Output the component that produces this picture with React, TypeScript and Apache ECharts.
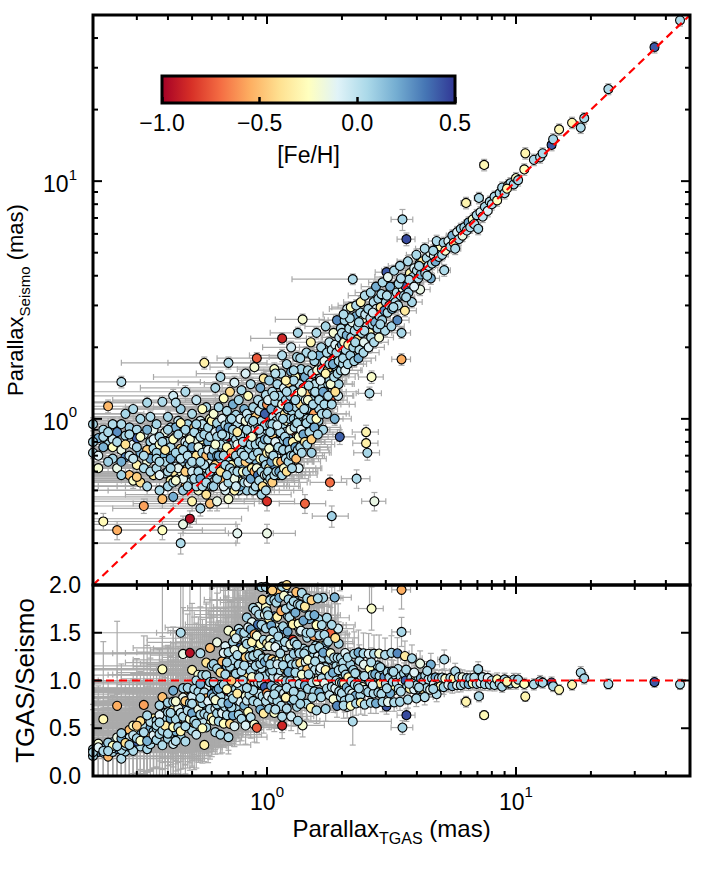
import React, { useEffect, useRef } from "react";
import * as echarts from "echarts";

// ---------- axis ranges, ticks ----------
const X_RANGE = [0.2, 50];
const Y_RANGE = [0.2, 50];
const RATIO_RANGE = [0, 2];
const FEH_RANGE = [-1, 0.5];
const LOG_MAJOR = [1, 10];
const LOG_MINOR = [0.3, 0.4, 0.5, 0.6, 0.7, 0.8, 0.9, 2, 3, 4, 5, 6, 7, 8, 9, 20, 30, 40];
const RATIO_TICKS = [0.5, 1.0, 1.5];
const RATIO_INTERVAL = 0.5;
const FEH_INTERVAL = 0.5;
const UNITY = 1;

const RDYLBU = ["#a50026", "#d73027", "#f46d43", "#fdae61", "#fee090", "#ffffbf", "#e0f3f8", "#abd9e9", "#74add1", "#4575b4", "#313695"];

// ---------- stars: [parallax TGAS, parallax seismo, [Fe/H], err TGAS, err seismo] ----------
const STARS_A = [
  [0.21, 0.83, 0.2, 0.28, 0.05], [0.2, 0.72, 0.04, 0.3, 0.04], [0.22, 0.9, 0.04, 0.27, 0.06], [0.23, 1.13, -0.52, 0.31, 0.07],
  [0.21, 0.62, -0.2, 0.29, 0.04], [0.22, 0.37, -0.28, 0.3, 0.03], [0.24, 0.95, 0.04, 0.26, 0.06], [0.25, 0.34, -0.55, 0.3, 0.03],
  [0.23, 0.78, 0.05, 0.32, 0.05], [0.26, 1.43, 0.02, 0.28, 0.08], [0.24, 0.68, 0.06, 0.29, 0.04], [0.25, 0.88, 0.28, 0.27, 0.05],
  [0.26, 0.74, -0.15, 0.3, 0.05], [0.27, 0.69, 0.3, 0.28, 0.04], [0.27, 1.05, 0.06, 0.31, 0.06], [0.28, 0.92, 0.08, 0.29, 0.06],
  [0.28, 0.58, -0.5, 0.3, 0.04], [0.29, 0.78, -0.1, 0.27, 0.05], [0.3, 0.9, 0.04, 0.3, 0.05], [0.3, 0.64, -0.3, 0.28, 0.04],
  [0.31, 1.0, 0.04, 0.29, 0.06], [0.31, 0.72, 0.18, 0.26, 0.05], [0.32, 0.86, -0.08, 0.3, 0.05], [0.32, 0.43, -0.58, 0.31, 0.03],
  [0.33, 1.17, 0.05, 0.28, 0.07], [0.33, 0.66, -0.18, 0.29, 0.04], [0.34, 0.8, 0.06, 0.3, 0.05], [0.34, 1.02, 0.03, 0.27, 0.06],
  [0.35, 0.58, -0.35, 0.3, 0.04], [0.35, 0.9, -0.12, 0.28, 0.05], [0.26, 0.95, 0.04, 0.3, 0.06], [0.29, 1.1, 0.04, 0.29, 0.07],
  [0.3, 0.83, 0.4, 0.3, 0.05], [0.24, 0.82, -0.05, 0.31, 0.05], [0.27, 0.85, 0.05, 0.28, 0.05], [0.28, 0.7, -0.02, 0.3, 0.04],
  [0.32, 0.62, 0.04, 0.29, 0.04], [0.33, 0.74, -0.45, 0.3, 0.05], [0.22, 0.76, 0.18, 0.3, 0.05], [0.2, 0.95, 0.05, 0.31, 0.06],
  [0.25, 0.62, -0.15, 0.28, 0.04], [0.29, 0.55, -0.22, 0.3, 0.04], [0.31, 0.54, -0.4, 0.28, 0.04], [0.34, 0.68, 0.2, 0.3, 0.04],
  [0.35, 0.75, 0.04, 0.29, 0.05],
];

const STARS_A2 = [
  [0.2, 0.8, 0.05, 0.4, 0.05], [0.21, 0.7, -0.1, 0.45, 0.05], [0.22, 0.84, 0.04, 0.38, 0.05], [0.23, 0.66, 0.08, 0.42, 0.04],
  [0.24, 0.76, -0.25, 0.4, 0.05], [0.25, 0.8, 0.04, 0.44, 0.05], [0.26, 0.66, 0.2, 0.4, 0.04], [0.27, 0.78, -0.4, 0.38, 0.05],
  [0.28, 0.86, 0.05, 0.42, 0.05], [0.29, 0.68, 0.0, 0.4, 0.04], [0.3, 0.76, 0.06, 0.45, 0.05], [0.31, 0.84, -0.22, 0.4, 0.05],
  [0.32, 0.7, 0.04, 0.38, 0.05], [0.33, 0.9, 0.18, 0.42, 0.06], [0.34, 0.6, 0.02, 0.4, 0.04], [0.35, 0.82, -0.1, 0.44, 0.05],
  [0.23, 0.88, 0.05, 0.4, 0.06], [0.26, 0.58, 0.07, 0.42, 0.04], [0.3, 0.57, -0.45, 0.4, 0.04], [0.33, 0.52, 0.04, 0.38, 0.04],
];

const STARS_B = [
  [0.36, 0.62, 0.04, 0.3, 0.04], [0.36, 0.95, 0.06, 0.28, 0.06], [0.37, 0.78, -0.22, 0.31, 0.05], [0.37, 0.5, 0.05, 0.29, 0.04],
  [0.38, 0.34, -0.25, 0.3, 0.03], [0.38, 1.18, 0.04, 0.3, 0.07], [0.38, 0.7, 0.18, 0.28, 0.05], [0.39, 0.88, -0.15, 0.32, 0.05],
  [0.39, 0.59, 0.02, 0.3, 0.04], [0.4, 1.02, 0.06, 0.29, 0.06], [0.4, 0.66, -0.48, 0.3, 0.05], [0.4, 0.8, 0.02, 0.31, 0.05],
  [0.41, 0.55, -0.3, 0.28, 0.04], [0.41, 0.92, 0.03, 0.3, 0.06], [0.42, 0.72, 0.03, 0.29, 0.05], [0.42, 1.25, -0.05, 0.3, 0.08],
  [0.42, 0.47, 0.2, 0.31, 0.04], [0.43, 0.84, -0.2, 0.3, 0.05], [0.43, 0.63, -0.05, 0.28, 0.04], [0.44, 0.98, -0.02, 0.3, 0.06],
  [0.44, 0.57, -0.15, 0.29, 0.04], [0.45, 0.3, 0.04, 0.3, 0.03], [0.45, 0.75, -0.42, 0.31, 0.05], [0.45, 1.1, 0.08, 0.28, 0.07],
  [0.46, 0.66, 0.04, 0.3, 0.05], [0.46, 0.36, -0.15, 0.29, 0.03], [0.46, 0.88, -0.12, 0.3, 0.05], [0.47, 0.52, -0.55, 0.3, 0.04],
  [0.47, 0.8, -0.08, 0.28, 0.05], [0.47, 1.3, 0.04, 0.31, 0.08], [0.48, 0.62, -0.25, 0.29, 0.05], [0.48, 0.95, 0.06, 0.3, 0.06],
  [0.49, 0.38, -0.95, 0.3, 0.03], [0.49, 0.72, 0.05, 0.28, 0.05], [0.5, 0.56, 0.0, 0.3, 0.04], [0.5, 0.85, -0.1, 0.29, 0.05],
  [0.5, 1.05, 0.04, 0.3, 0.07], [0.5, 0.45, -0.3, 0.31, 0.04], [0.51, 0.68, 0.02, 0.28, 0.05], [0.51, 0.92, -0.45, 0.3, 0.06],
  [0.52, 0.6, 0.04, 0.29, 0.04], [0.52, 0.78, 0.28, 0.3, 0.05], [0.52, 1.2, -0.02, 0.28, 0.07], [0.53, 0.5, -0.2, 0.3, 0.04],
  [0.53, 0.86, 0.05, 0.29, 0.05], [0.54, 0.7, -0.6, 0.3, 0.05], [0.54, 0.98, -0.08, 0.31, 0.06], [0.54, 0.42, 0.03, 0.3, 0.03],
  [0.55, 0.64, 0.2, 0.28, 0.04], [0.55, 0.82, -0.28, 0.3, 0.05], [0.56, 1.72, -0.32, 0.3, 0.1], [0.56, 0.74, 0.06, 0.29, 0.05],
  [0.56, 0.55, -0.15, 0.3, 0.04], [0.57, 0.9, -0.05, 0.28, 0.06], [0.57, 0.48, -0.38, 0.3, 0.04], [0.57, 1.12, 0.05, 0.3, 0.07],
  [0.58, 0.66, -0.12, 0.29, 0.05], [0.58, 0.8, 0.18, 0.31, 0.05], [0.58, 0.58, 0.04, 0.28, 0.04], [0.59, 1.0, -0.22, 0.3, 0.06],
  [0.59, 0.72, 0.02, 0.29, 0.05], [0.59, 0.44, -0.5, 0.3, 0.03], [0.6, 0.86, 0.03, 0.28, 0.05], [0.6, 0.62, 0.04, 0.3, 0.04],
  [0.36, 0.72, 0.08, 0.3, 0.05], [0.39, 0.66, 0.03, 0.29, 0.05], [0.41, 0.76, 0.04, 0.3, 0.05], [0.43, 0.92, 0.18, 0.28, 0.06],
  [0.45, 0.6, -0.18, 0.3, 0.04], [0.48, 0.78, 0.06, 0.29, 0.05], [0.49, 0.54, 0.06, 0.3, 0.04], [0.51, 0.8, -0.15, 0.28, 0.05],
  [0.53, 0.66, 0.05, 0.3, 0.05], [0.55, 0.95, 0.0, 0.29, 0.06], [0.57, 0.62, -0.08, 0.3, 0.04], [0.47, 0.68, 0.3, 0.3, 0.05],
  [0.44, 0.7, 0.04, 0.29, 0.05], [0.42, 0.6, -0.35, 0.3, 0.04], [0.52, 0.52, 0.03, 0.31, 0.04], [0.5, 0.7, 0.04, 0.28, 0.05],
  [0.46, 0.56, -0.12, 0.3, 0.04], [0.37, 0.84, 0.06, 0.3, 0.05], [0.38, 0.46, -0.5, 0.29, 0.04], [0.4, 0.52, 0.06, 0.3, 0.04],
  [0.43, 1.17, 0.02, 0.28, 0.07], [0.55, 0.52, 0.04, 0.3, 0.04],
];

const STARS_B2 = [
  [0.36, 0.68, 0.04, 0.42, 0.05], [0.37, 0.58, -0.1, 0.4, 0.04], [0.38, 0.8, 0.05, 0.45, 0.05], [0.39, 0.74, -0.35, 0.4, 0.05],
  [0.4, 0.6, 0.03, 0.42, 0.04], [0.4, 0.9, 0.05, 0.4, 0.06], [0.41, 0.68, 0.2, 0.44, 0.05], [0.42, 0.82, -0.25, 0.4, 0.05],
  [0.42, 0.54, 0.04, 0.42, 0.04], [0.43, 0.72, 0.06, 0.45, 0.05], [0.44, 0.62, -0.12, 0.4, 0.04], [0.44, 0.86, 0.05, 0.42, 0.05],
  [0.45, 0.68, 0.0, 0.4, 0.05], [0.45, 0.96, -0.3, 0.44, 0.06], [0.46, 0.74, 0.04, 0.4, 0.05], [0.46, 0.5, 0.08, 0.42, 0.04],
  [0.47, 0.6, -0.45, 0.4, 0.04], [0.47, 0.9, 0.05, 0.45, 0.06], [0.48, 0.7, 0.02, 0.42, 0.05], [0.48, 0.52, 0.06, 0.4, 0.04],
  [0.49, 0.82, -0.2, 0.44, 0.05], [0.49, 0.64, 0.05, 0.4, 0.05], [0.5, 0.76, 0.22, 0.42, 0.05], [0.5, 0.6, -0.05, 0.4, 0.04],
  [0.51, 0.88, 0.04, 0.45, 0.06], [0.51, 0.56, 0.03, 0.42, 0.04], [0.52, 0.7, -0.38, 0.4, 0.05], [0.52, 0.95, 0.06, 0.44, 0.06],
  [0.53, 0.6, 0.05, 0.4, 0.04], [0.53, 0.76, -0.15, 0.42, 0.05], [0.54, 0.84, 0.04, 0.4, 0.05], [0.54, 0.56, 0.2, 0.45, 0.04],
  [0.55, 0.72, 0.05, 0.42, 0.05], [0.55, 1.1, -0.25, 0.4, 0.07], [0.56, 0.64, 0.02, 0.44, 0.05], [0.56, 0.86, 0.06, 0.4, 0.05],
  [0.57, 0.7, -0.5, 0.42, 0.05], [0.57, 0.54, 0.04, 0.4, 0.04], [0.58, 0.92, 0.05, 0.45, 0.06], [0.58, 0.74, -0.1, 0.42, 0.05],
  [0.59, 0.6, 0.06, 0.4, 0.04], [0.59, 0.84, 0.03, 0.44, 0.05], [0.6, 0.7, 0.22, 0.42, 0.05], [0.6, 0.98, -0.3, 0.4, 0.06],
  [0.6, 0.52, 0.05, 0.42, 0.04], [0.37, 0.66, 0.05, 0.4, 0.05], [0.41, 0.62, 0.06, 0.42, 0.04], [0.43, 0.55, -0.2, 0.4, 0.04],
  [0.5, 0.66, 0.04, 0.44, 0.05], [0.54, 0.66, 0.05, 0.4, 0.05],
];

const STARS_C = [
  [0.61, 0.74, 0.05, 0.3, 0.05], [0.61, 1.05, -0.2, 0.29, 0.07], [0.61, 0.52, 0.08, 0.3, 0.04], [0.62, 0.88, -0.08, 0.28, 0.06],
  [0.62, 0.64, -0.45, 0.3, 0.05], [0.62, 1.35, 0.04, 0.31, 0.08], [0.63, 0.7, 0.2, 0.29, 0.05], [0.63, 0.96, 0.06, 0.3, 0.06],
  [0.63, 0.45, -0.15, 0.3, 0.04], [0.64, 0.8, -0.3, 0.28, 0.05], [0.64, 0.58, 0.03, 0.3, 0.04], [0.64, 1.12, 0.06, 0.29, 0.07],
  [0.65, 0.68, 0.02, 0.3, 0.05], [0.65, 0.9, 0.28, 0.31, 0.06], [0.65, 1.5, 0.04, 0.3, 0.09], [0.66, 0.55, -0.52, 0.29, 0.04],
  [0.66, 0.76, -0.05, 0.3, 0.05], [0.66, 1.0, -0.1, 0.28, 0.06], [0.67, 0.62, -0.02, 0.3, 0.05], [0.67, 0.84, 0.0, 0.29, 0.05],
  [0.67, 1.22, -0.25, 0.3, 0.08], [0.68, 0.5, -0.08, 0.3, 0.04], [0.68, 0.72, -0.38, 0.31, 0.05], [0.68, 0.94, 0.03, 0.28, 0.06],
  [0.69, 0.6, 0.18, 0.3, 0.04], [0.69, 1.08, 0.03, 0.29, 0.07], [0.69, 0.8, 0.05, 0.3, 0.05], [0.7, 0.84, -0.98, 0.3, 0.05],
  [0.7, 0.66, 0.06, 0.29, 0.05], [0.7, 1.72, 0.04, 0.3, 0.1], [0.7, 0.46, -0.2, 0.3, 0.04], [0.71, 0.98, 0.08, 0.28, 0.06],
  [0.71, 0.74, -0.15, 0.3, 0.05], [0.71, 1.3, -0.42, 0.29, 0.08], [0.72, 0.56, 0.04, 0.3, 0.04], [0.72, 0.86, 0.04, 0.31, 0.05],
  [0.72, 0.64, -0.28, 0.29, 0.05], [0.73, 1.15, 0.2, 0.3, 0.07], [0.73, 0.78, 0.05, 0.28, 0.05], [0.73, 0.52, 0.06, 0.3, 0.04],
  [0.74, 0.92, -0.15, 0.3, 0.06], [0.74, 0.7, -0.12, 0.29, 0.05], [0.74, 1.42, -0.08, 0.3, 0.09], [0.75, 0.6, -0.55, 0.31, 0.05],
  [0.75, 0.82, 0.04, 0.28, 0.05], [0.75, 1.04, 0.06, 0.3, 0.07], [0.76, 0.33, -0.12, 0.3, 0.03], [0.76, 0.68, 0.02, 0.29, 0.05],
  [0.76, 0.96, 0.02, 0.3, 0.06], [0.77, 0.5, -0.02, 0.3, 0.04], [0.77, 0.88, -0.3, 0.28, 0.06], [0.77, 1.2, 0.06, 0.3, 0.07],
  [0.78, 0.74, 0.04, 0.29, 0.05], [0.78, 0.58, 0.35, 0.3, 0.04], [0.78, 1.0, -0.08, 0.3, 0.06], [0.79, 0.8, 0.0, 0.31, 0.05],
  [0.79, 0.64, -0.46, 0.29, 0.05], [0.79, 1.32, 0.05, 0.3, 0.08], [0.8, 0.9, 0.04, 0.28, 0.06], [0.8, 0.55, -0.22, 0.3, 0.04],
  [0.8, 0.72, 0.03, 0.3, 0.05], [0.81, 1.1, 0.18, 0.29, 0.07], [0.81, 0.84, 0.06, 0.3, 0.05], [0.81, 0.62, -0.05, 0.28, 0.05],
  [0.82, 0.98, -0.18, 0.3, 0.06], [0.82, 0.7, 0.03, 0.31, 0.05], [0.82, 1.55, -0.08, 0.3, 0.09], [0.83, 0.5, 0.08, 0.29, 0.04],
  [0.83, 0.8, -0.4, 0.3, 0.05], [0.83, 1.05, -0.02, 0.28, 0.07], [0.84, 0.66, -0.15, 0.3, 0.05], [0.84, 0.9, 0.06, 0.29, 0.06],
  [0.84, 1.25, -0.26, 0.3, 0.08], [0.85, 0.58, 0.04, 0.3, 0.04], [0.85, 0.76, 0.2, 0.28, 0.05], [0.85, 1.0, 0.04, 0.31, 0.06],
  [0.86, 0.86, -0.58, 0.3, 0.06], [0.86, 0.64, 0.05, 0.29, 0.05], [0.86, 1.4, 0.02, 0.3, 0.09], [0.87, 0.72, -0.1, 0.3, 0.05],
  [0.87, 0.95, -0.08, 0.28, 0.06], [0.87, 0.54, -0.12, 0.3, 0.04], [0.88, 1.12, 0.06, 0.29, 0.07], [0.88, 0.8, -0.32, 0.3, 0.05],
  [0.88, 0.62, 0.04, 0.3, 0.05], [0.89, 0.9, 0.0, 0.28, 0.06], [0.89, 0.7, 0.03, 0.31, 0.05], [0.89, 1.65, -0.2, 0.3, 0.1],
  [0.9, 0.59, 0.05, 0.29, 0.04], [0.9, 0.84, 0.06, 0.3, 0.05], [0.9, 1.02, -0.45, 0.3, 0.06], [0.91, 1.8, -0.75, 0.28, 0.1],
  [0.91, 0.76, 0.04, 0.3, 0.05], [0.91, 0.66, 0.18, 0.29, 0.05], [0.92, 0.94, 0.03, 0.3, 0.06], [0.92, 1.2, 0.02, 0.3, 0.07],
  [0.92, 0.52, -0.15, 0.31, 0.04], [0.93, 0.82, 0.02, 0.28, 0.05], [0.93, 0.7, -0.28, 0.3, 0.05], [0.93, 1.08, -0.02, 0.29, 0.07],
  [0.94, 0.6, -0.05, 0.3, 0.04], [0.94, 0.88, -0.08, 0.3, 0.06], [0.94, 1.35, 0.2, 0.28, 0.08], [0.95, 0.76, -0.52, 0.3, 0.05],
  [0.95, 0.98, 0.04, 0.29, 0.06], [0.95, 0.48, 0.06, 0.3, 0.04], [0.96, 0.68, 0.08, 0.3, 0.05], [0.96, 0.9, -0.08, 0.28, 0.06],
  [0.96, 1.15, 0.03, 0.31, 0.07], [0.97, 0.8, -0.12, 0.3, 0.05], [0.97, 0.62, 0.05, 0.29, 0.05], [0.97, 1.48, -0.35, 0.3, 0.09],
  [0.98, 0.94, 0.06, 0.3, 0.06], [0.98, 0.72, 0.04, 0.28, 0.05], [0.98, 1.05, 0.4, 0.3, 0.07], [0.99, 0.56, -0.22, 0.29, 0.04],
  [0.99, 0.86, 0.03, 0.3, 0.05], [0.99, 1.26, 0.02, 0.3, 0.08], [1.0, 0.33, -0.15, 0.3, 0.03], [1.0, 0.45, -0.85, 0.29, 0.04],
  [1.0, 1.15, -0.6, 0.3, 0.07], [0.74, 0.5, -0.3, 0.3, 0.04], [0.68, 0.85, 0.04, 0.29, 0.05], [0.65, 0.78, 0.04, 0.3, 0.05],
  [0.72, 1.0, 0.05, 0.3, 0.06], [0.78, 0.85, 0.04, 0.28, 0.05], [0.84, 0.74, 0.06, 0.3, 0.05], [0.9, 0.72, 0.02, 0.29, 0.05],
  [0.95, 0.84, 0.02, 0.3, 0.05], [0.8, 0.64, 0.2, 0.3, 0.05], [0.88, 0.98, 0.05, 0.29, 0.06], [0.63, 0.84, 0.06, 0.3, 0.05],
  [0.7, 0.58, 0.02, 0.3, 0.04], [0.76, 0.78, -0.12, 0.29, 0.05], [0.82, 0.58, -0.02, 0.3, 0.04],
];

const STARS_C2 = [
  [0.61, 0.62, 0.04, 0.42, 0.05], [0.62, 0.78, -0.2, 0.4, 0.05], [0.63, 0.56, 0.05, 0.44, 0.04], [0.64, 0.7, 0.2, 0.42, 0.05],
  [0.65, 0.6, -0.4, 0.4, 0.04], [0.66, 0.86, 0.04, 0.45, 0.05], [0.67, 0.7, 0.06, 0.42, 0.05], [0.67, 0.52, -0.1, 0.4, 0.04],
  [0.68, 0.64, 0.05, 0.44, 0.05], [0.69, 0.76, -0.28, 0.42, 0.05], [0.7, 0.54, 0.04, 0.4, 0.04], [0.7, 0.92, 0.22, 0.45, 0.06],
  [0.71, 0.62, 0.05, 0.42, 0.05], [0.72, 0.72, -0.5, 0.4, 0.05], [0.73, 0.6, 0.03, 0.44, 0.04], [0.73, 0.9, 0.05, 0.42, 0.06],
  [0.74, 0.56, -0.15, 0.4, 0.04], [0.75, 0.7, 0.06, 0.45, 0.05], [0.76, 0.6, 0.04, 0.42, 0.04], [0.76, 0.88, -0.35, 0.4, 0.06],
  [0.77, 0.66, 0.05, 0.44, 0.05], [0.78, 0.52, 0.2, 0.42, 0.04], [0.79, 0.72, 0.02, 0.4, 0.05], [0.8, 0.6, -0.22, 0.45, 0.04],
  [0.8, 0.8, 0.05, 0.42, 0.05], [0.81, 0.54, 0.04, 0.4, 0.04], [0.82, 0.66, -0.45, 0.44, 0.05], [0.83, 0.6, 0.06, 0.42, 0.04],
  [0.83, 0.9, 0.05, 0.4, 0.06], [0.84, 0.54, -0.1, 0.45, 0.04], [0.85, 0.68, 0.03, 0.42, 0.05], [0.86, 0.56, 0.22, 0.4, 0.04],
  [0.86, 0.78, 0.05, 0.44, 0.05], [0.87, 0.62, -0.3, 0.42, 0.05], [0.88, 0.5, 0.04, 0.4, 0.04], [0.88, 0.7, 0.06, 0.45, 0.05],
  [0.89, 0.6, -0.55, 0.42, 0.04], [0.9, 0.78, 0.05, 0.4, 0.05], [0.9, 0.52, 0.02, 0.44, 0.04], [0.91, 0.62, -0.18, 0.42, 0.05],
  [0.92, 0.72, 0.05, 0.4, 0.05], [0.92, 0.58, 0.35, 0.45, 0.04], [0.93, 0.55, 0.04, 0.42, 0.04], [0.94, 0.68, -0.25, 0.4, 0.05],
  [0.94, 0.8, 0.05, 0.44, 0.05], [0.95, 0.6, 0.06, 0.42, 0.04], [0.96, 0.52, -0.4, 0.4, 0.04], [0.96, 0.78, 0.04, 0.45, 0.05],
  [0.97, 0.68, 0.05, 0.42, 0.05], [0.98, 0.58, -0.12, 0.4, 0.04], [0.98, 0.82, 0.2, 0.44, 0.05], [0.99, 0.64, 0.05, 0.42, 0.05],
  [0.99, 0.5, 0.03, 0.4, 0.04], [1.0, 0.72, -0.3, 0.45, 0.05], [1.0, 0.58, 0.05, 0.42, 0.04], [0.69, 0.58, 0.06, 0.4, 0.04],
  [0.75, 0.52, -0.05, 0.42, 0.04], [0.81, 0.7, 0.04, 0.4, 0.05], [0.87, 0.84, -0.2, 0.44, 0.05], [0.93, 0.9, 0.05, 0.42, 0.06],
];

const STARS_D = [
  [1.01, 0.82, 0.04, 0.3, 0.05], [1.01, 1.2, -0.08, 0.29, 0.07], [1.02, 0.62, -0.3, 0.3, 0.04], [1.02, 1.45, 0.08, 0.31, 0.09],
  [1.03, 0.95, 0.06, 0.28, 0.06], [1.03, 0.72, -0.18, 0.3, 0.05], [1.04, 1.1, 0.18, 0.29, 0.07], [1.04, 0.56, 0.05, 0.3, 0.04],
  [1.05, 0.86, -0.45, 0.3, 0.05], [1.05, 1.3, 0.02, 0.28, 0.08], [1.06, 0.76, 0.06, 0.3, 0.05], [1.06, 1.02, -0.02, 0.29, 0.06],
  [1.07, 0.64, 0.28, 0.3, 0.05], [1.07, 1.62, -0.22, 0.31, 0.1], [1.08, 0.9, 0.04, 0.3, 0.06], [1.08, 1.18, 0.04, 0.28, 0.07],
  [1.09, 0.7, -0.12, 0.3, 0.05], [1.09, 0.98, 0.0, 0.29, 0.06], [1.1, 1.4, 0.05, 0.3, 0.08], [1.1, 0.8, 0.03, 0.3, 0.05],
  [1.11, 0.58, -0.5, 0.28, 0.04], [1.11, 1.08, -0.05, 0.3, 0.07], [1.12, 0.92, -0.28, 0.29, 0.06], [1.12, 1.25, 0.06, 0.3, 0.08],
  [1.13, 0.74, 0.02, 0.3, 0.05], [1.13, 1.02, 0.02, 0.31, 0.06], [1.14, 1.55, 0.03, 0.28, 0.09], [1.14, 0.84, 0.18, 0.3, 0.05],
  [1.15, 2.18, -0.88, 0.29, 0.12], [1.15, 0.66, 0.04, 0.3, 0.05], [1.15, 1.15, -0.15, 0.3, 0.07], [1.16, 0.95, 0.04, 0.28, 0.06],
  [1.17, 1.35, -0.08, 0.3, 0.08], [1.17, 0.76, 0.3, 0.29, 0.05], [1.18, 1.05, -0.35, 0.3, 0.07], [1.18, 0.6, 0.06, 0.3, 0.04],
  [1.19, 0.88, -0.02, 0.28, 0.06], [1.19, 1.2, 0.08, 0.31, 0.07], [1.2, 1.7, 0.04, 0.3, 0.1], [1.2, 0.98, -0.2, 0.29, 0.06],
  [1.21, 0.72, 0.04, 0.3, 0.05], [1.21, 1.1, 0.02, 0.3, 0.07], [1.22, 0.85, 0.2, 0.28, 0.05], [1.22, 1.42, -0.42, 0.3, 0.09],
  [1.23, 1.0, 0.05, 0.29, 0.06], [1.24, 0.66, -0.1, 0.3, 0.05], [1.24, 1.25, 0.06, 0.3, 0.08], [1.25, 0.92, -0.08, 0.31, 0.06],
  [1.25, 1.58, 0.18, 0.28, 0.09], [1.26, 1.08, 0.06, 0.3, 0.07], [1.26, 0.78, -0.55, 0.29, 0.05], [1.27, 0.89, -0.82, 0.3, 0.06],
  [1.27, 1.32, 0.04, 0.3, 0.08], [1.28, 1.0, 0.08, 0.28, 0.06], [1.29, 1.18, 0.03, 0.3, 0.07], [1.29, 0.7, 0.03, 0.29, 0.05],
  [1.3, 1.5, -0.25, 0.3, 0.09], [1.3, 0.95, 0.06, 0.31, 0.06], [1.31, 1.12, 0.04, 0.3, 0.07], [1.32, 0.84, -0.12, 0.28, 0.05],
  [1.32, 1.82, 0.05, 0.3, 0.11], [1.33, 1.28, -0.15, 0.29, 0.08], [1.34, 1.02, 0.04, 0.3, 0.06], [1.34, 0.62, -0.08, 0.3, 0.05],
  [1.35, 1.4, 0.0, 0.28, 0.09], [1.36, 1.15, -0.38, 0.3, 0.07], [1.36, 0.9, -0.02, 0.29, 0.06], [1.37, 1.62, 0.06, 0.3, 0.1],
  [1.38, 1.25, 0.02, 0.3, 0.08], [1.39, 2.62, -0.2, 0.31, 0.14], [1.4, 1.05, 0.02, 0.28, 0.07], [1.4, 1.35, 0.06, 0.3, 0.08],
  [1.41, 0.8, 0.04, 0.29, 0.05], [1.42, 0.44, -0.72, 0.3, 0.04], [1.42, 1.5, 0.2, 0.3, 0.09], [1.43, 1.2, -0.1, 0.28, 0.07],
  [1.44, 1.9, 0.04, 0.3, 0.11], [1.45, 1.0, 0.03, 0.31, 0.06], [1.45, 1.3, -0.48, 0.3, 0.08], [1.46, 1.6, 0.06, 0.29, 0.1],
  [1.47, 1.12, -0.08, 0.3, 0.07], [1.48, 0.9, 0.18, 0.3, 0.06], [1.49, 1.42, -0.02, 0.28, 0.09], [1.5, 2.1, -0.3, 0.3, 0.12],
  [1.5, 1.2, 0.04, 0.29, 0.07], [1.51, 0.72, 0.08, 0.3, 0.05], [1.52, 1.55, 0.02, 0.3, 0.09], [1.53, 1.32, -0.05, 0.31, 0.08],
  [1.54, 1.05, -0.58, 0.3, 0.07], [1.55, 1.75, 0.06, 0.28, 0.1], [1.56, 1.4, 0.0, 0.3, 0.08], [1.57, 1.15, 0.05, 0.29, 0.07],
  [1.58, 2.3, 0.04, 0.3, 0.13], [1.59, 1.6, -0.18, 0.3, 0.1], [1.6, 1.28, -0.08, 0.28, 0.08], [1.61, 0.98, 0.06, 0.3, 0.06],
  [1.62, 1.85, 0.18, 0.31, 0.11], [1.63, 1.48, -0.02, 0.3, 0.09], [1.64, 1.2, -0.35, 0.29, 0.07], [1.65, 2.0, 0.04, 0.3, 0.12],
  [1.66, 1.62, 0.03, 0.3, 0.1], [1.67, 1.35, 0.02, 0.28, 0.08], [1.68, 0.9, 0.06, 0.3, 0.06], [1.7, 1.75, -0.12, 0.29, 0.1],
  [1.71, 1.5, 0.03, 0.3, 0.09], [1.72, 2.45, 0.06, 0.3, 0.14], [1.73, 1.25, 0.2, 0.31, 0.08], [1.74, 1.9, 0.04, 0.28, 0.11],
  [1.75, 1.6, -0.42, 0.3, 0.1], [1.76, 1.4, 0.04, 0.29, 0.08], [1.78, 2.1, -0.02, 0.3, 0.12], [1.79, 0.54, -0.7, 0.3, 0.04],
  [1.8, 1.2, -0.72, 0.3, 0.07], [1.8, 1.7, 0.08, 0.28, 0.1], [1.82, 0.39, 0.08, 0.3, 0.04], [1.82, 1.95, 0.02, 0.3, 0.11],
  [1.84, 1.52, 0.06, 0.29, 0.09], [1.85, 2.3, -0.2, 0.3, 0.13], [1.86, 1.78, 0.05, 0.3, 0.1], [1.87, 1.0, 0.18, 0.31, 0.06],
  [1.88, 2.05, -0.08, 0.28, 0.12], [1.9, 1.65, 0.04, 0.3, 0.1], [1.91, 2.6, 0.3, 0.29, 0.15], [1.92, 1.85, -0.3, 0.3, 0.11],
  [1.94, 1.4, 0.06, 0.3, 0.08], [1.95, 2.2, 0.02, 0.28, 0.13], [1.96, 0.84, 0.4, 0.3, 0.06], [1.97, 1.95, 0.03, 0.3, 0.11],
  [1.98, 2.4, 0.03, 0.29, 0.14], [1.99, 1.7, -0.15, 0.3, 0.1], [1.05, 0.95, 0.06, 0.3, 0.06], [1.12, 0.8, 0.06, 0.29, 0.05],
  [1.2, 1.3, 0.04, 0.3, 0.08], [1.28, 1.45, 0.04, 0.3, 0.09], [1.35, 0.75, 0.05, 0.28, 0.05], [1.44, 1.1, 0.06, 0.3, 0.07],
  [1.52, 1.85, 0.04, 0.29, 0.11], [1.62, 1.1, 0.03, 0.3, 0.07], [1.7, 1.3, 0.0, 0.3, 0.08], [1.78, 1.45, 0.06, 0.28, 0.09],
  [1.93, 1.25, -0.05, 0.3, 0.08], [1.15, 1.85, 0.03, 0.3, 0.11], [1.25, 2.0, -0.05, 0.29, 0.12], [1.33, 2.3, 0.06, 0.3, 0.13],
  [1.08, 1.55, 0.02, 0.3, 0.09],
];

const STARS_D2 = [
  [1.01, 0.6, 0.05, 0.42, 0.04], [1.02, 0.75, -0.2, 0.4, 0.05], [1.03, 0.56, 0.04, 0.44, 0.04], [1.04, 0.66, 0.22, 0.42, 0.05],
  [1.05, 0.54, -0.45, 0.4, 0.04], [1.06, 0.7, 0.05, 0.45, 0.05], [1.07, 0.58, 0.03, 0.42, 0.04], [1.08, 0.8, -0.1, 0.4, 0.05],
  [1.09, 0.6, 0.05, 0.44, 0.04], [1.1, 0.66, -0.3, 0.42, 0.05], [1.11, 0.76, 0.05, 0.4, 0.05], [1.12, 0.6, 0.2, 0.45, 0.04],
  [1.13, 0.88, 0.04, 0.42, 0.06], [1.14, 0.66, -0.55, 0.4, 0.05], [1.15, 0.58, 0.05, 0.44, 0.04], [1.16, 0.74, 0.06, 0.42, 0.05],
  [1.17, 0.62, -0.2, 0.4, 0.05], [1.18, 0.84, 0.05, 0.45, 0.05], [1.19, 0.68, 0.03, 0.42, 0.05], [1.2, 0.6, -0.4, 0.4, 0.04],
  [1.21, 0.8, 0.22, 0.44, 0.05], [1.22, 0.66, 0.05, 0.42, 0.05], [1.23, 0.74, 0.04, 0.4, 0.05], [1.24, 0.9, -0.15, 0.45, 0.06],
  [1.25, 0.7, 0.05, 0.42, 0.05], [1.26, 0.62, 0.06, 0.4, 0.05], [1.27, 0.8, -0.3, 0.44, 0.05], [1.28, 0.7, 0.05, 0.42, 0.05],
  [1.29, 0.92, 0.04, 0.4, 0.06], [1.3, 0.76, 0.2, 0.45, 0.05], [1.31, 0.68, -0.5, 0.42, 0.05], [1.32, 0.96, 0.05, 0.4, 0.06],
  [1.33, 0.74, 0.03, 0.44, 0.05], [1.34, 0.84, -0.22, 0.42, 0.05], [1.35, 1.05, 0.05, 0.4, 0.07], [1.36, 0.76, 0.06, 0.45, 0.05],
  [1.37, 0.9, -0.1, 0.42, 0.06], [1.38, 0.72, 0.05, 0.4, 0.05], [1.4, 0.86, 0.22, 0.44, 0.05], [1.41, 1.1, 0.04, 0.42, 0.07],
  [1.42, 0.8, -0.35, 0.4, 0.05], [1.44, 0.96, 0.05, 0.45, 0.06], [1.45, 0.78, 0.05, 0.42, 0.05], [1.46, 1.2, -0.2, 0.4, 0.07],
  [1.48, 0.88, 0.04, 0.44, 0.06], [1.5, 1.0, 0.06, 0.42, 0.06], [1.51, 0.82, -0.45, 0.4, 0.05], [1.53, 1.15, 0.05, 0.45, 0.07],
  [1.55, 0.92, 0.2, 0.42, 0.06], [1.56, 1.3, 0.04, 0.4, 0.08], [1.58, 1.0, -0.25, 0.44, 0.06], [1.6, 0.86, 0.05, 0.42, 0.05],
  [1.62, 1.2, 0.05, 0.4, 0.07], [1.64, 1.45, -0.1, 0.45, 0.09], [1.66, 1.05, 0.04, 0.42, 0.07], [1.68, 1.3, 0.22, 0.4, 0.08],
  [1.7, 1.15, 0.05, 0.44, 0.07], [1.72, 1.55, -0.3, 0.42, 0.09], [1.74, 1.05, 0.05, 0.4, 0.07], [1.76, 1.25, 0.04, 0.45, 0.08],
  [1.78, 1.7, 0.06, 0.42, 0.1], [1.8, 1.4, -0.2, 0.4, 0.08], [1.82, 1.15, 0.05, 0.44, 0.07], [1.84, 1.7, 0.2, 0.42, 0.1],
  [1.86, 1.5, 0.04, 0.4, 0.09], [1.88, 1.3, -0.4, 0.45, 0.08], [1.9, 1.9, 0.05, 0.42, 0.11], [1.92, 1.55, 0.05, 0.4, 0.09],
  [1.94, 1.75, 0.03, 0.44, 0.1], [1.96, 2.0, -0.15, 0.42, 0.12], [1.98, 1.6, 0.05, 0.4, 0.1], [2.0, 2.05, 0.22, 0.45, 0.12],
  [2.02, 1.7, 0.04, 0.42, 0.1], [2.05, 2.2, -0.28, 0.4, 0.12], [2.08, 1.9, 0.05, 0.44, 0.11], [2.1, 2.3, 0.05, 0.42, 0.13],
  [2.13, 2.0, 0.06, 0.4, 0.11], [2.16, 2.45, -0.1, 0.45, 0.14], [2.19, 2.1, 0.05, 0.42, 0.12], [1.03, 0.88, 0.05, 0.4, 0.06],
  [1.1, 0.94, -0.05, 0.42, 0.06], [1.16, 1.0, 0.05, 0.44, 0.06], [1.22, 1.12, 0.2, 0.4, 0.07], [1.3, 1.2, 0.05, 0.42, 0.07],
  [1.38, 1.3, -0.2, 0.4, 0.08], [1.47, 1.38, 0.05, 0.45, 0.08], [1.07, 1.25, 0.04, 0.42, 0.08], [1.19, 1.45, -0.3, 0.4, 0.09],
  [1.28, 1.6, 0.05, 0.44, 0.1], [1.36, 1.8, 0.06, 0.42, 0.11],
];

const STARS_E = [
  [2.0, 2.3, 0.04, 0.3, 0.12], [2.02, 1.8, 0.05, 0.31, 0.1], [2.04, 2.1, -0.2, 0.3, 0.12], [2.05, 2.6, 0.06, 0.29, 0.14],
  [2.07, 1.95, 0.05, 0.3, 0.11], [2.09, 2.25, 0.18, 0.3, 0.12], [2.1, 2.9, -0.08, 0.32, 0.16], [2.12, 2.05, -0.3, 0.3, 0.11],
  [2.14, 2.4, 0.04, 0.29, 0.13], [2.16, 1.85, 0.08, 0.3, 0.1], [2.18, 2.2, 0.06, 0.3, 0.12], [2.21, 3.87, 0.04, 0.95, 0.2],
  [2.2, 2.55, -0.12, 0.28, 0.14], [2.22, 2.0, 0.06, 0.3, 0.11], [2.25, 2.35, 0.03, 0.31, 0.13], [2.27, 2.7, 0.2, 0.3, 0.15],
  [2.29, 0.56, 0.04, 0.3, 0.05], [2.3, 2.15, -0.4, 0.29, 0.12], [2.32, 2.45, 0.05, 0.3, 0.13], [2.35, 1.95, 0.02, 0.3, 0.11],
  [2.37, 2.8, 0.04, 0.28, 0.15], [2.4, 2.3, 0.04, 0.3, 0.12], [2.42, 2.6, -0.18, 0.3, 0.14], [2.45, 2.1, -0.12, 0.31, 0.11],
  [2.48, 2.75, -0.02, 0.3, 0.15], [2.5, 0.88, -0.3, 0.3, 0.06], [2.5, 0.79, -0.32, 0.29, 0.06], [2.53, 0.72, 0.06, 0.3, 0.05],
  [2.52, 2.45, -0.08, 0.3, 0.13], [2.55, 2.9, 0.06, 0.28, 0.16], [2.58, 1.28, 0.04, 0.3, 0.08], [2.58, 2.3, -0.25, 0.3, 0.12],
  [2.6, 2.65, 0.0, 0.31, 0.14], [2.63, 1.5, -0.22, 0.3, 0.09], [2.65, 2.5, 0.05, 0.29, 0.13], [2.68, 3.1, 0.03, 0.3, 0.17],
  [2.7, 0.45, -0.15, 0.3, 0.04], [2.72, 2.55, 0.18, 0.3, 0.13], [2.75, 2.9, -0.1, 0.28, 0.15], [2.78, 2.4, 0.06, 0.3, 0.13],
  [2.8, 3.2, 0.06, 0.31, 0.17], [2.83, 2.7, 0.04, 0.3, 0.14], [2.86, 2.95, -0.35, 0.29, 0.16], [2.9, 2.6, 0.08, 0.3, 0.14],
  [2.93, 3.3, -0.08, 0.3, 0.18], [2.96, 2.85, 0.28, 0.28, 0.15], [3.0, 3.1, 0.05, 0.3, 0.17], [3.02, 4.14, 0.42, 0.3, 0.22],
  [3.05, 2.8, 0.04, 0.31, 0.15], [3.08, 3.35, -0.2, 0.3, 0.18], [3.1, 3.0, 0.06, 0.29, 0.16], [3.14, 3.5, 0.04, 0.3, 0.19],
  [3.18, 2.9, 0.2, 0.3, 0.16], [3.2, 3.25, 0.06, 0.28, 0.18], [3.25, 3.6, -0.28, 0.3, 0.2], [3.28, 3.1, 0.04, 0.3, 0.17],
  [3.32, 3.4, 0.02, 0.31, 0.19], [3.36, 3.0, 0.02, 0.3, 0.16], [3.4, 3.75, 0.18, 0.29, 0.21], [3.44, 3.3, 0.05, 0.3, 0.18],
  [3.47, 1.78, -0.55, 0.3, 0.1], [3.47, 2.3, 0.06, 0.3, 0.12], [3.5, 6.9, 0.06, 0.35, 0.7], [3.5, 3.55, -0.15, 0.28, 0.2],
  [3.55, 3.3, 0.06, 0.3, 0.18], [3.6, 3.6, 0.4, 0.31, 0.2], [3.63, 5.7, 0.45, 0.3, 0.35], [3.65, 3.9, 0.04, 0.29, 0.22],
  [3.7, 3.4, 0.08, 0.3, 0.19], [3.75, 4.1, -0.3, 0.3, 0.23], [3.8, 3.7, 0.05, 0.28, 0.21], [3.85, 3.95, 0.06, 0.3, 0.22],
  [3.9, 4.3, -0.08, 0.3, 0.24], [3.95, 3.75, -0.2, 0.31, 0.21], [4.0, 4.2, 0.02, 0.3, 0.24], [4.05, 3.9, 0.04, 0.29, 0.22],
  [4.1, 4.5, 0.06, 0.3, 0.26], [4.15, 4.05, 0.18, 0.3, 0.23], [4.2, 4.6, -0.38, 0.28, 0.26], [4.26, 4.3, 0.03, 0.3, 0.24],
  [4.32, 4.1, 0.05, 0.3, 0.23], [4.38, 4.75, 0.04, 0.31, 0.27], [4.45, 4.4, 0.0, 0.3, 0.25], [4.52, 5.0, -0.12, 0.29, 0.28],
  [4.6, 4.5, 0.04, 0.3, 0.26], [4.68, 4.85, -0.08, 0.3, 0.27], [4.75, 4.6, 0.2, 0.28, 0.26], [4.82, 5.2, 0.05, 0.3, 0.29],
  [4.9, 4.8, 0.06, 0.3, 0.27], [4.98, 5.3, -0.25, 0.31, 0.3], [2.15, 2.65, 0.05, 0.3, 0.14], [2.34, 2.55, 0.06, 0.3, 0.14],
  [2.62, 2.2, 0.04, 0.3, 0.12], [2.88, 3.35, 0.04, 0.3, 0.18], [3.12, 3.6, 0.2, 0.3, 0.19], [3.38, 3.7, 0.06, 0.3, 0.2],
  [3.72, 3.85, 0.04, 0.3, 0.21],
];

const STARS_E2 = [
  [2.03, 2.75, 0.04, 0.35, 0.15], [2.06, 1.6, -0.1, 0.35, 0.09], [2.11, 1.7, 0.05, 0.4, 0.1], [2.17, 2.95, -0.25, 0.35, 0.16],
  [2.24, 1.75, 0.06, 0.38, 0.1], [2.28, 3.0, 0.04, 0.35, 0.17], [2.33, 1.8, 0.2, 0.4, 0.1], [2.38, 3.1, -0.3, 0.35, 0.17],
  [2.44, 1.9, 0.05, 0.38, 0.11], [2.47, 3.3, 0.04, 0.35, 0.18], [2.56, 2.0, -0.08, 0.4, 0.11], [2.61, 3.4, 0.06, 0.35, 0.19],
  [2.69, 2.1, 0.04, 0.38, 0.12], [2.74, 3.6, 0.2, 0.35, 0.2], [2.82, 2.2, -0.2, 0.4, 0.12], [2.91, 3.75, 0.05, 0.35, 0.21],
  [2.98, 2.35, 0.04, 0.38, 0.13], [3.06, 3.95, -0.12, 0.35, 0.22], [3.16, 2.45, 0.06, 0.4, 0.14], [3.24, 4.2, 0.04, 0.35, 0.23],
  [3.34, 2.6, 0.3, 0.38, 0.15], [3.42, 4.4, 0.05, 0.35, 0.25], [3.58, 2.85, -0.35, 0.4, 0.16], [3.68, 4.6, 0.04, 0.35, 0.26],
  [3.82, 3.1, 0.06, 0.38, 0.17], [3.98, 4.9, 0.05, 0.35, 0.28], [4.12, 3.5, -0.15, 0.4, 0.2], [4.3, 5.2, 0.04, 0.35, 0.3],
  [4.55, 3.9, 0.2, 0.38, 0.22], [4.8, 5.6, 0.04, 0.35, 0.32], [2.26, 2.1, 0.05, 0.3, 0.12], [2.46, 2.35, 0.04, 0.3, 0.13],
  [2.66, 2.8, -0.05, 0.3, 0.15], [2.85, 2.5, 0.06, 0.3, 0.14], [3.03, 3.3, 0.04, 0.3, 0.18], [3.22, 2.95, 0.05, 0.3, 0.16],
  [3.45, 3.9, 0.03, 0.3, 0.22], [3.62, 3.25, 0.05, 0.3, 0.18], [3.9, 3.6, -0.1, 0.3, 0.2], [4.08, 4.4, 0.05, 0.3, 0.25],
  [4.4, 4.0, 0.04, 0.3, 0.23], [4.65, 5.1, 0.06, 0.3, 0.29],
];

const STARS_F = [
  [5.05, 4.9, 0.04, 0.3, 0.28], [5.12, 5.5, 0.08, 0.3, 0.31], [5.2, 5.1, -0.2, 0.31, 0.29], [5.15, 4.22, 0.04, 0.3, 0.24],
  [5.35, 5.6, -0.08, 0.29, 0.32], [5.45, 5.3, 0.05, 0.3, 0.3], [5.55, 5.9, 0.18, 0.3, 0.33], [5.62, 5.5, -0.32, 0.28, 0.31],
  [5.7, 5.2, 0.04, 0.3, 0.29], [5.8, 6.1, -0.08, 0.3, 0.34], [5.9, 5.7, 0.02, 0.31, 0.32], [6.0, 6.3, 0.06, 0.3, 0.35],
  [6.1, 5.9, -0.15, 0.3, 0.33], [6.2, 6.4, 0.06, 0.29, 0.36], [6.3, 8.1, -0.3, 0.3, 0.45], [6.35, 6.2, 0.04, 0.3, 0.35],
  [6.45, 6.7, 0.2, 0.28, 0.37], [6.55, 6.4, 0.04, 0.3, 0.36], [6.7, 6.9, -0.22, 0.3, 0.38], [6.8, 6.6, 0.04, 0.31, 0.37],
  [6.95, 7.2, 0.05, 0.3, 0.4], [7.05, 6.3, 0.06, 0.29, 0.35], [7.1, 8.5, 0.04, 0.3, 0.47], [7.2, 7.4, -0.08, 0.3, 0.41],
  [7.35, 7.1, 0.0, 0.28, 0.4], [7.45, 11.7, -0.28, 0.3, 0.65], [7.5, 7.8, 0.06, 0.3, 0.43], [7.7, 7.5, -0.1, 0.31, 0.42],
  [7.85, 8.2, 0.04, 0.3, 0.45], [8.0, 8.0, 0.02, 0.3, 0.44], [8.2, 8.6, 0.04, 0.29, 0.48], [8.4, 8.3, -0.25, 0.3, 0.46],
  [8.6, 8.9, 0.06, 0.3, 0.49], [8.8, 9.4, 0.05, 0.28, 0.52], [9.0, 8.9, 0.04, 0.3, 0.49], [9.3, 9.6, -0.15, 0.3, 0.53],
  [9.5, 9.8, 0.04, 0.31, 0.54], [9.8, 9.7, 0.06, 0.3, 0.54], [10.0, 10.3, -0.22, 0.3, 0.57], [10.2, 10.1, 0.06, 0.29, 0.56],
  [10.8, 11.2, -0.25, 0.3, 0.62], [10.9, 13.1, -0.3, 0.3, 0.72], [11.8, 12.3, 0.04, 0.3, 0.68], [12.5, 12.6, 0.04, 0.3, 0.7],
  [13.9, 14.2, 0.42, 0.3, 0.78], [14.1, 15.0, 0.06, 0.3, 0.83], [14.9, 16.5, -0.28, 0.3, 0.9], [16.8, 17.6, -0.3, 0.3, 0.97],
  [18.2, 16.8, 0.04, 0.3, 0.93], [18.8, 18.4, 0.06, 0.3, 1.0], [23.5, 24.4, 0.04, 0.35, 1.3], [36.0, 36.6, 0.42, 0.4, 2.0],
  [45.6, 47.5, 0.04, 0.5, 2.6], [12.8, 13.1, 0.05, 0.3, 0.7], [9.2, 9.3, -0.3, 0.3, 0.5],
];

const STARS = [
  ...STARS_A, ...STARS_A2, ...STARS_B, ...STARS_B2, ...STARS_C, ...STARS_C2,
  ...STARS_D, ...STARS_D2, ...STARS_E, ...STARS_E2, ...STARS_F,
];

// ---------- styling ----------
const FONT = "'Liberation Sans', Arial, Helvetica, sans-serif";
const ERR_COLOR = "#aaaaaa";
const MAJOR_LEN = 9;
const MINOR_LEN = 5;

const supRich = {
  b: { fontSize: 23, lineHeight: 29, verticalAlign: "bottom", fontFamily: FONT, color: "#000" },
  s: { fontSize: 15, lineHeight: 15, verticalAlign: "top", fontFamily: FONT, color: "#000" },
};
const subRich = {
  m: { fontSize: 22, lineHeight: 28, verticalAlign: "top", fontFamily: FONT, color: "#000" },
  s: { fontSize: 15, lineHeight: 15, verticalAlign: "bottom", fontFamily: FONT, color: "#000" },
};
const subRichX = {
  m: { fontSize: 24, lineHeight: 30, verticalAlign: "top", fontFamily: FONT, color: "#000" },
  s: { fontSize: 16, lineHeight: 16, verticalAlign: "bottom", fontFamily: FONT, color: "#000" },
};

const powLabel = (v: number) => {
  const e = Math.log10(v);
  const r = Math.round(e);
  if (Math.abs(e - r) > 1e-6) return "";
  return `{b|10}{s|${r}}`;
};

function makeErrRender(logY: boolean) {
  return (params: any, api: any) => {
    const x = api.value(0) as number;
    const y = api.value(1) as number;
    const ex = api.value(2) as number;
    const ey = api.value(3) as number;
    const cs = params.coordSys;
    const L = cs.x, R = cs.x + cs.width, T = cs.y, B = cs.y + cs.height;
    const c = api.coord([x, y]);
    const kids: any[] = [];
    const st = { stroke: ERR_COLOR, lineWidth: 1.2 };
    const ln = (x1: number, y1: number, x2: number, y2: number) =>
      kids.push({ type: "line", shape: { x1, y1, x2, y2 }, style: st, silent: true });
    const cap = 3;
    if (c[1] >= T && c[1] <= B) {
      const xl = x - ex > 0 ? api.coord([x - ex, y])[0] : -1e6;
      const xr = api.coord([x + ex, y])[0];
      const a = Math.max(xl, L), b = Math.min(xr, R);
      if (b > a) ln(a, c[1], b, c[1]);
      if (xl >= L && xl <= R) ln(xl, c[1] - cap, xl, c[1] + cap);
      if (xr >= L && xr <= R) ln(xr, c[1] - cap, xr, c[1] + cap);
    }
    if (c[0] >= L && c[0] <= R) {
      const yt = api.coord([x, y + ey])[1];
      const yb = y - ey > 0 || !logY ? api.coord([x, y - ey])[1] : 1e6;
      const a = Math.max(yt, T), b = Math.min(yb, B);
      if (b > a) ln(c[0], a, c[0], b);
      if (yt >= T && yt <= B) ln(c[0] - cap, yt, c[0] + cap, yt);
      if (yb >= T && yb <= B) ln(c[0] - cap, yb, c[0] + cap, yb);
    }
    return { type: "group", children: kids };
  };
}

function makeFrameRender(xr: number[], yr: number[], xMaj: number[], xMin: number[], yMaj: number[], yMin: number[]) {
  return (_params: any, api: any) => {
    const kids: any[] = [];
    const bl = api.coord([xr[0], yr[0]]);
    const tr = api.coord([xr[1], yr[1]]);
    const left = bl[0], bottom = bl[1], right = tr[0], top = tr[1];
    const ln = (x1: number, y1: number, x2: number, y2: number) =>
      kids.push({ type: "line", shape: { x1, y1, x2, y2 }, style: { stroke: "#000", lineWidth: 2 } });
    const xt = (vals: number[], len: number) => vals.forEach((v) => {
      const px = api.coord([v, yr[0]])[0];
      ln(px, bottom, px, bottom - len);
      ln(px, top, px, top + len);
    });
    const yt = (vals: number[], len: number) => vals.forEach((v) => {
      const py = api.coord([xr[0], v])[1];
      ln(left, py, left + len, py);
      ln(right, py, right - len, py);
    });
    xt(xMaj, MAJOR_LEN); xt(xMin, MINOR_LEN); yt(yMaj, MAJOR_LEN); yt(yMin, MINOR_LEN);
    kids.push({
      type: "rect",
      shape: { x: left, y: top, width: right - left, height: bottom - top },
      style: { fill: "none", stroke: "#000", lineWidth: 3 },
    });
    return { type: "group", children: kids };
  };
}

export default function App() {
  const ref = useRef<HTMLDivElement>(null);
  useEffect(() => {
    document.body.style.margin = "0";
    if (!ref.current) return;
    const chart = echarts.init(ref.current, undefined, { renderer: "svg" });

    const topPts = STARS.map((s) => [s[0], s[1], s[2]]);
    const botPts = STARS.map((s) => [s[0], s[0] / s[1], s[2]]);
    const topErr = STARS.map((s) => [s[0], s[1], s[3], s[4]]);
    const botErr = STARS.map((s) => {
      const r = s[0] / s[1];
      const er = r * Math.sqrt((s[3] / s[0]) ** 2 + (s[4] / s[1]) ** 2);
      return [s[0], r, s[3], er];
    });

    const gradient = new echarts.graphic.LinearGradient(0, 0, 1, 0,
      RDYLBU.map((c, i) => ({ offset: i / (RDYLBU.length - 1), color: c })));

    const hiddenAxis = {
      axisLine: { show: false }, axisTick: { show: false }, axisLabel: { show: false }, splitLine: { show: false },
    };

    const option: any = {
      animation: false,
      backgroundColor: "#fff",
      grid: [
        { left: 93, top: 15, width: 597, height: 570, outerBoundsMode: "none" },
        { left: 93, top: 585, width: 597, height: 191, outerBoundsMode: "none" },
        { left: 162, top: 76, width: 293, height: 27, show: true, backgroundColor: gradient, borderColor: "#000", borderWidth: 3, outerBoundsMode: "none" },
      ],
      xAxis: [
        { gridIndex: 0, type: "log", logBase: 10, min: X_RANGE[0], max: X_RANGE[1], ...hiddenAxis },
        {
          gridIndex: 1, type: "log", logBase: 10, min: X_RANGE[0], max: X_RANGE[1],
          axisLine: { show: false }, axisTick: { show: false }, splitLine: { show: false },
          axisLabel: { show: true, margin: 8, formatter: powLabel, rich: supRich },
          name: "{m|Parallax}{s|TGAS}{m| (mas)}", nameLocation: "middle", nameGap: 40,
          nameTextStyle: { rich: subRichX },
        },
        {
          gridIndex: 2, type: "value", min: FEH_RANGE[0], max: FEH_RANGE[1], interval: FEH_INTERVAL,
          axisLine: { show: false }, splitLine: { show: false },
          axisTick: { show: true, inside: true, length: 6, lineStyle: { color: "#000", width: 2.5 } },
          axisLabel: {
            show: true, margin: 8, fontSize: 23, fontFamily: FONT, color: "#000",
            formatter: (v: number) => (v < 0 ? "\u2212" : "") + Math.abs(v).toFixed(1),
          },
          name: "[Fe/H]", nameLocation: "middle", nameGap: 40,
          nameTextStyle: { fontSize: 23, fontFamily: FONT, color: "#000" },
        },
      ],
      yAxis: [
        {
          gridIndex: 0, type: "log", logBase: 10, min: Y_RANGE[0], max: Y_RANGE[1],
          axisLine: { show: false }, axisTick: { show: false }, splitLine: { show: false },
          axisLabel: { show: true, margin: 16, formatter: powLabel, rich: supRich },
          name: "{m|Parallax}{s|Seismo}{m| (mas)}", nameLocation: "middle", nameGap: 58,
          nameTextStyle: { rich: subRich },
        },
        {
          gridIndex: 1, type: "value", min: RATIO_RANGE[0], max: RATIO_RANGE[1], interval: RATIO_INTERVAL,
          axisLine: { show: false }, axisTick: { show: false }, splitLine: { show: false },
          axisLabel: { show: true, margin: 12, fontSize: 23, fontFamily: FONT, color: "#000", formatter: (v: number) => v.toFixed(1) },
          name: "TGAS/Seismo", nameLocation: "middle", nameGap: 53,
          nameTextStyle: { fontSize: 26, fontFamily: FONT, color: "#000" },
        },
        { gridIndex: 2, type: "value", min: 0, max: 1, show: false },
      ],
      visualMap: {
        type: "continuous", show: false, min: FEH_RANGE[0], max: FEH_RANGE[1], dimension: 2,
        seriesIndex: [2, 3], inRange: { color: RDYLBU },
      },
      series: [
        { type: "custom", xAxisIndex: 0, yAxisIndex: 0, data: topErr, renderItem: makeErrRender(true), silent: true, z: 1, encode: { x: 0, y: 1 } },
        { type: "custom", xAxisIndex: 1, yAxisIndex: 1, data: botErr, renderItem: makeErrRender(false), silent: true, z: 1, encode: { x: 0, y: 1 } },
        {
          type: "scatter", xAxisIndex: 0, yAxisIndex: 0, data: topPts, symbolSize: 9, clip: true, z: 2,
          itemStyle: { borderColor: "#000", borderWidth: 1.1, opacity: 1 }, silent: true,
        },
        {
          type: "scatter", xAxisIndex: 1, yAxisIndex: 1, data: botPts, symbolSize: 9, clip: true, z: 2,
          itemStyle: { borderColor: "#000", borderWidth: 1.1, opacity: 1 }, silent: true,
        },
        {
          type: "line", xAxisIndex: 0, yAxisIndex: 0, symbol: "none", z: 3, silent: true,
          data: [[X_RANGE[0], Y_RANGE[0]], [X_RANGE[1], Y_RANGE[1]]],
          lineStyle: { color: "#ff0000", width: 2.2, type: [8, 5] },
        },
        {
          type: "line", xAxisIndex: 1, yAxisIndex: 1, symbol: "none", z: 3, silent: true,
          data: [[X_RANGE[0], UNITY], [X_RANGE[1], UNITY]],
          lineStyle: { color: "#ff0000", width: 2.2, type: [8, 5] },
        },
        {
          type: "custom", xAxisIndex: 0, yAxisIndex: 0, data: [[1, 1]], clip: false, silent: true, z: 10,
          renderItem: makeFrameRender(X_RANGE, Y_RANGE, LOG_MAJOR, LOG_MINOR, LOG_MAJOR, LOG_MINOR),
        },
        {
          type: "custom", xAxisIndex: 1, yAxisIndex: 1, data: [[1, 1]], clip: false, silent: true, z: 10,
          renderItem: makeFrameRender(X_RANGE, RATIO_RANGE, LOG_MAJOR, LOG_MINOR, RATIO_TICKS, []),
        },
      ],
    };
    chart.setOption(option);
    return () => chart.dispose();
  }, []);
  return <div ref={ref} style={{ width: 710, height: 872 }} />;
}
